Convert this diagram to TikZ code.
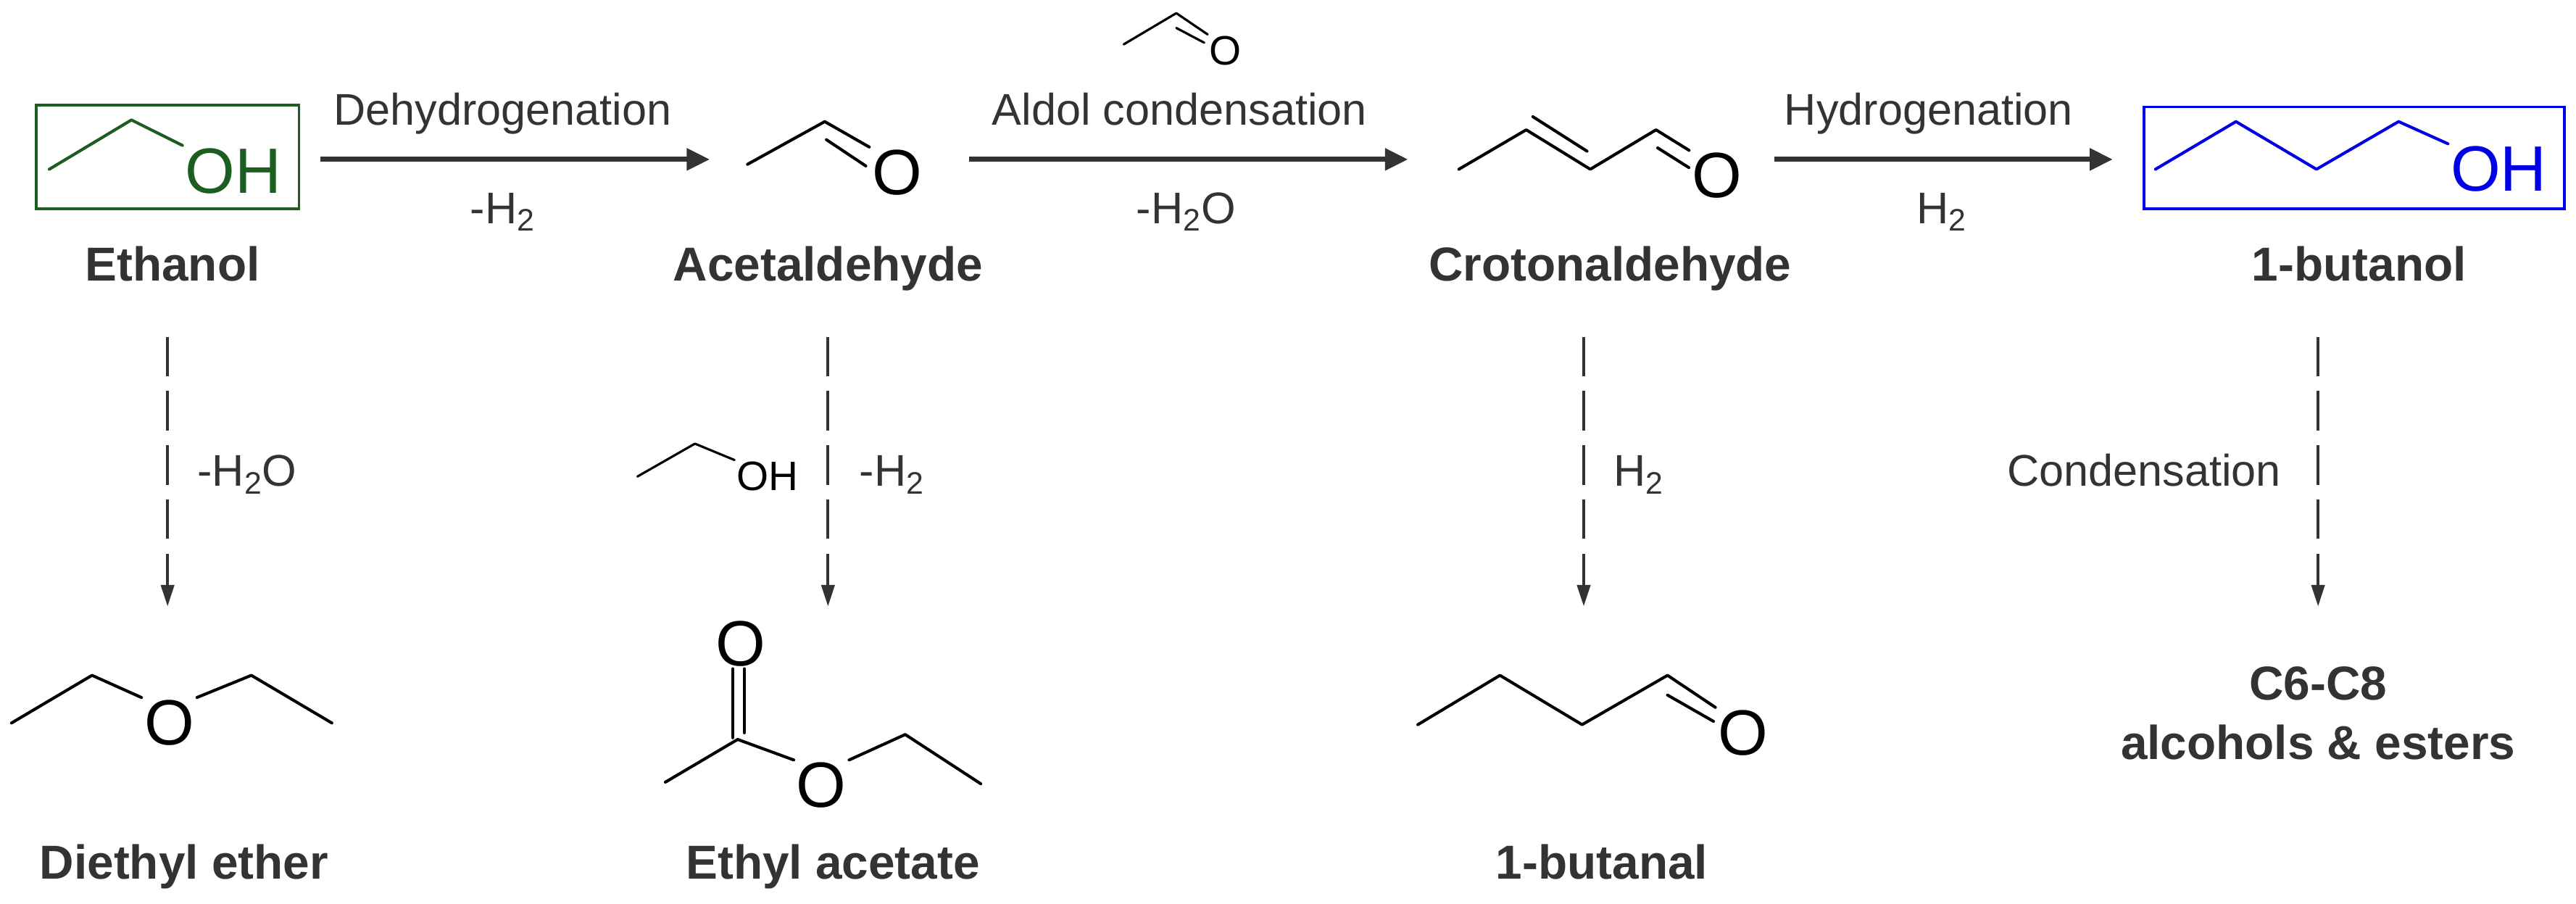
\documentclass[tikz,border=0pt]{standalone}
\usepackage{fontspec}
\setmainfont{Liberation Sans}
\usetikzlibrary{arrows.meta}
\definecolor{txt}{HTML}{333333}
\definecolor{eth}{HTML}{1B5E20}
\definecolor{but}{HTML}{0000E6}
\tikzset{
  lbl/.style={text=txt,font=\fontsize{27}{30}\selectfont,inner sep=0pt,anchor=base},
  cname/.style={text=txt,font=\fontsize{29}{33}\selectfont\bfseries,inner sep=0pt,anchor=base},
  atom/.style={font=\fontsize{39}{42}\selectfont,inner sep=1.5pt},
  satom/.style={font=\fontsize{25}{28}\selectfont,inner sep=1pt},
  bond/.style={line width=1.8pt,line cap=round,line join=round},
  mainarrow/.style={draw=txt,line width=3pt,-{Triangle[length=14pt,width=13pt]}},
  sidearrow/.style={draw=txt,line width=1.7pt,dash pattern=on 24pt off 9pt,-{Triangle[length=13pt,width=8pt]}},
}
\begin{document}
\begin{tikzpicture}[x=1pt,y=-1pt]
\useasboundingbox (0,0) rectangle (1568,550);
% Ethanol
\node[draw=eth,line width=1.6pt,minimum width=160pt,minimum height=63pt,inner sep=0pt] (ebox) at (102,95.5) {};
\node[atom,text=eth] (eoh) at (142,104) {OH};
\coordinate (e1) at (30,103); \coordinate (e2) at (80,73);
\draw[bond,eth] (e1) -- (e2) -- (eoh.north west);
\node[cname] (nEth) at (105,171) {Ethanol};
% Acetaldehyde
\node[atom] (ao) at (546,105) {O};
\coordinate (a1) at (455,100); \coordinate (a2) at (502,74);
\coordinate (a3) at (503,85); \coordinate (a4) at (527,101);
\draw[bond] (a1) -- (a2) -- (ao.north west);
\draw[bond] (a3) -- (a4);
\node[cname] (nAc) at (504,171) {Acetaldehyde};
% small acetaldehyde above aldol arrow
\node[satom] (so) at (746,31) {O};
\coordinate (s1) at (684,27); \coordinate (s2) at (716,8);
\coordinate (s3) at (716,17); \coordinate (s4) at (733,26);
\draw[bond,line width=1.4pt] (s1) -- (s2) -- (so.north west);
\draw[bond,line width=1.4pt] (s3) -- (s4);
% Crotonaldehyde
\node[atom] (co) at (1045,107) {O};
\coordinate (c1) at (888,103); \coordinate (c2) at (929,79);
\coordinate (c3) at (968,103); \coordinate (c4) at (1008,79);
\draw[bond] (c1) -- (c2) -- (c3) -- (c4) -- (co.north west);
\coordinate (c5) at (933,71); \coordinate (c6) at (966,92);
\coordinate (c7) at (1009,90); \coordinate (c8) at (1028,102);
\draw[bond] (c5) -- (c6); \draw[bond] (c7) -- (c8);
\node[cname] (nCr) at (980,171) {Crotonaldehyde};
% 1-butanol
\node[draw=but,line width=1.6pt,minimum width=256pt,minimum height=62pt,inner sep=0pt] (bbox) at (1433,96) {};
\node[atom,text=but] (boh) at (1521,103) {OH};
\coordinate (b1) at (1312,103); \coordinate (b2) at (1361,74);
\coordinate (b3) at (1410,103); \coordinate (b4) at (1460,74);
\draw[bond,but] (b1) -- (b2) -- (b3) -- (b4) -- (boh.north west);
\node[cname] (nBu) at (1436,171) {1-butanol};
% main arrows
\coordinate (m1s) at (195,97); \coordinate (m1e) at (432,97);
\coordinate (m2s) at (590,97); \coordinate (m2e) at (857,97);
\coordinate (m3s) at (1080,97); \coordinate (m3e) at (1286,97);
\draw[mainarrow] (m1s) -- (m1e);
\draw[mainarrow] (m2s) -- (m2e);
\draw[mainarrow] (m3s) -- (m3e);
\node[lbl] (t1) at (306,76) {Dehydrogenation};
\node[lbl] (t1b) at (306,136) {-H\textsubscript{2}};
\node[lbl] (t2) at (718,76) {Aldol condensation};
\node[lbl] (t2b) at (722,136) {-H\textsubscript{2}O};
\node[lbl] (t3) at (1174,76) {Hydrogenation};
\node[lbl] (t3b) at (1182,136) {H\textsubscript{2}};
% side arrows
\coordinate (d1s) at (102,205); \coordinate (d1e) at (102,369);
\coordinate (d2s) at (504,205); \coordinate (d2e) at (504,369);
\coordinate (d3s) at (964,205); \coordinate (d3e) at (964,369);
\coordinate (d4s) at (1411,205); \coordinate (d4e) at (1411,369);
\draw[sidearrow] (d1s) -- (d1e);
\draw[sidearrow] (d2s) -- (d2e);
\draw[sidearrow] (d3s) -- (d3e);
\draw[sidearrow] (d4s) -- (d4e);
\node[lbl,anchor=base west] (u1) at (120,296) {-H\textsubscript{2}O};
\node[lbl,anchor=base west] (u2) at (523,296) {-H\textsubscript{2}};
\node[lbl,anchor=base west] (u3) at (982,296) {H\textsubscript{2}};
\node[lbl] (u4) at (1305,296) {Condensation};
% ethanol co-reactant
\node[satom] (x3) at (467,290) {OH};
\coordinate (x1) at (388,290); \coordinate (x2) at (423,270);
\draw[bond,line width=1.4pt] (x1) -- (x2) -- (x3.north west);
% Diethyl ether
\node[atom] (do) at (103,440) {O};
\coordinate (de1) at (7,440); \coordinate (de2) at (56,411);
\coordinate (de3) at (153,411); \coordinate (de4) at (202,440);
\draw[bond] (de1) -- (de2) -- (do.north west);
\draw[bond] (do.north east) -- (de3) -- (de4);
\node[cname] (nDe) at (112,535) {Diethyl ether};
% Ethyl acetate
\node[atom] (eo1) at (451,392) {O};
\node[atom] (eo2) at (500,478) {O};
\coordinate (ea1) at (405,476); \coordinate (ea2) at (449,450);
\coordinate (ea3) at (551,447); \coordinate (ea4) at (597,477);
\coordinate (ea5) at (446,449); \coordinate (ea6) at (446,407);
\coordinate (ea7) at (453,446); \coordinate (ea8) at (453,407);
\draw[bond] (ea1) -- (ea2) -- (eo2.north west);
\draw[bond] (ea5) -- (ea6); \draw[bond] (ea7) -- (ea8);
\draw[bond] (eo2.north east) -- (ea3) -- (ea4);
\node[cname] (nEa) at (507,535) {Ethyl acetate};
% 1-butanal
\node[atom] (bo) at (1061,446) {O};
\coordinate (bl1) at (863,441); \coordinate (bl2) at (913,411);
\coordinate (bl3) at (963,441); \coordinate (bl4) at (1015,411);
\coordinate (bl5) at (1015,423); \coordinate (bl6) at (1043,439);
\draw[bond] (bl1) -- (bl2) -- (bl3) -- (bl4) -- (bo.north west);
\draw[bond] (bl5) -- (bl6);
\node[cname] (nBl) at (975,535) {1-butanal};
% C6-C8
\node[cname] (nC6) at (1411,426) {C6-C8};
\node[cname] (nC6b) at (1411,462) {alcohols \& esters};
\end{tikzpicture}
\end{document}
